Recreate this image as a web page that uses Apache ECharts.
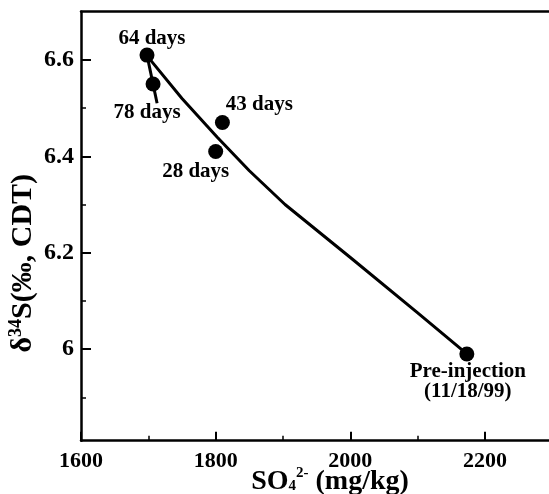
<!DOCTYPE html>
<html>
<head>
<meta charset="utf-8">
<script src="https://cdn.jsdelivr.net/npm/echarts@6/dist/echarts.min.js"></script>
<style>html,body{margin:0;padding:0;background:#fff;}#c{width:549px;height:494px;}</style>
</head>
<body>
<div id="c"></div>
<script>
// ---- data ----
var pointNames = ['64 days', '78 days', '43 days', '28 days', 'Pre-injection\n(11/18/99)'];
var pointSO4 = [1698, 1707, 1810, 1800, 2173];
var pointD34S = [6.61, 6.55, 6.47, 6.41, 5.99];

var trendSO4 = [1703, 1750, 1802, 1850, 1903, 2000, 2100, 2173];
var trendD34S = [6.60, 6.52, 6.44, 6.37, 6.30, 6.19, 6.075, 5.99];

var branchSO4 = [1698, 1713];
var branchD34S = [6.61, 6.51];

var xTicks = [1600, 1800, 2000, 2200];
var yMajor = [6, 6.2, 6.4, 6.6];
var yMinor = [5.9, 6.1, 6.3, 6.5];

// ---- styling (positions of labels relative to their markers) ----
var labelOffsets = [[5, -17], [-6, 29], [37, -18], [-20, 20], [1, 28]];

var FONT = '"Liberation Serif", "Times New Roman", serif';

function zip(a, b) { return a.map(function (v, i) { return [v, b[i]]; }); }

var scatterData = pointSO4.map(function (x, i) {
  return {
    value: [x, pointD34S[i]],
    label: { offset: labelOffsets[i] }
  };
});

var chart = echarts.init(document.getElementById('c'), null, { renderer: 'canvas' });
chart.setOption({
  animation: false,
  backgroundColor: '#ffffff',
  grid: { left: 81, right: 0, top: 11.7, bottom: 53.3, containLabel: false, outerBoundsMode: 'none' },
  xAxis: [{
    type: 'value', min: 1600, max: 2295, interval: 200,
    axisLine: { show: true, lineStyle: { color: '#000', width: 2.5 } },
    axisTick: { show: true, inside: true, length: 9, customValues: xTicks, lineStyle: { color: '#000', width: 2 } },
    minorTick: { show: true, splitNumber: 2, length: 5, lineStyle: { color: '#000', width: 1.5 } },
    splitLine: { show: false },
    axisLabel: {
      margin: 10, color: '#000', fontFamily: FONT, fontWeight: 'bold', fontSize: 22,
      customValues: xTicks,
      formatter: function (v) { return String(v); }
    },
    name: '{a|SO}{sub|4}{sup|2-}{a| (mg/kg)}',
    nameLocation: 'middle', nameGap: 27, nameMoveOverlap: false,
    nameTextStyle: {
      padding: [0, 0, 0, 30],
      rich: {
        a: { fontFamily: FONT, fontWeight: 'bold', fontSize: 28, color: '#000', lineHeight: 28 },
        sub: { fontFamily: FONT, fontWeight: 'bold', fontSize: 15, color: '#000', verticalAlign: 'bottom', lineHeight: 28, padding: [0, 0, 2, 0] },
        sup: { fontFamily: FONT, fontWeight: 'bold', fontSize: 15, color: '#000', verticalAlign: 'top', lineHeight: 28, padding: [-2, 0, 0, 0] }
      }
    }
  }, {
    type: 'value', position: 'top', min: 1600, max: 2295,
    axisLine: { show: true, lineStyle: { color: '#000', width: 2.5 } },
    axisTick: { show: false }, axisLabel: { show: false }, splitLine: { show: false }
  }],
  yAxis: [{
    type: 'value', min: 5.81, max: 6.7,
    axisLine: { show: true, lineStyle: { color: '#000', width: 2.5 } },
    axisTick: { show: true, inside: true, length: 10, customValues: yMajor, lineStyle: { color: '#000', width: 2 } },
    splitLine: { show: false },
    axisLabel: {
      margin: 7, color: '#000', fontFamily: FONT, fontWeight: 'bold', fontSize: 24,
      customValues: yMajor,
      formatter: function (v) { return String(Math.round(v * 10) / 10); }
    },
    name: '{a|δ}{sup|34}{a|S(‰, CDT)}',
    nameLocation: 'middle', nameGap: 42, nameRotate: 90, nameMoveOverlap: false,
    nameTextStyle: {
      padding: [0, 74, 0, 0],
      rich: {
        a: { fontFamily: FONT, fontWeight: 'bold', fontSize: 30, color: '#000', lineHeight: 32 },
        sup: { fontFamily: FONT, fontWeight: 'bold', fontSize: 18, color: '#000', verticalAlign: 'top', lineHeight: 32 }
      }
    }
  }, {
    type: 'value', min: 5.81, max: 6.7, position: 'left',
    axisLine: { show: false },
    axisTick: { show: true, inside: true, length: 5, customValues: yMinor, lineStyle: { color: '#000', width: 1.5 } },
    axisLabel: { show: false }, splitLine: { show: false }
  }],
  series: [{
    type: 'line', data: zip(trendSO4, trendD34S), symbol: 'none', smooth: false,
    lineStyle: { color: '#000', width: 3 }, z: 2
  }, {
    type: 'line', data: zip(branchSO4, branchD34S), symbol: 'none',
    lineStyle: { color: '#000', width: 3 }, z: 2
  }, {
    type: 'scatter', data: scatterData, symbol: 'circle', symbolSize: 15,
    itemStyle: { color: '#000', opacity: 1 }, z: 3,
    label: {
      show: true, position: 'inside', color: '#000', opacity: 1,
      fontFamily: FONT, fontWeight: 'bold', fontSize: 21, lineHeight: 20,
      formatter: function (p) { return pointNames[p.dataIndex]; }
    }
  }]
});
</script>
</body>
</html>
